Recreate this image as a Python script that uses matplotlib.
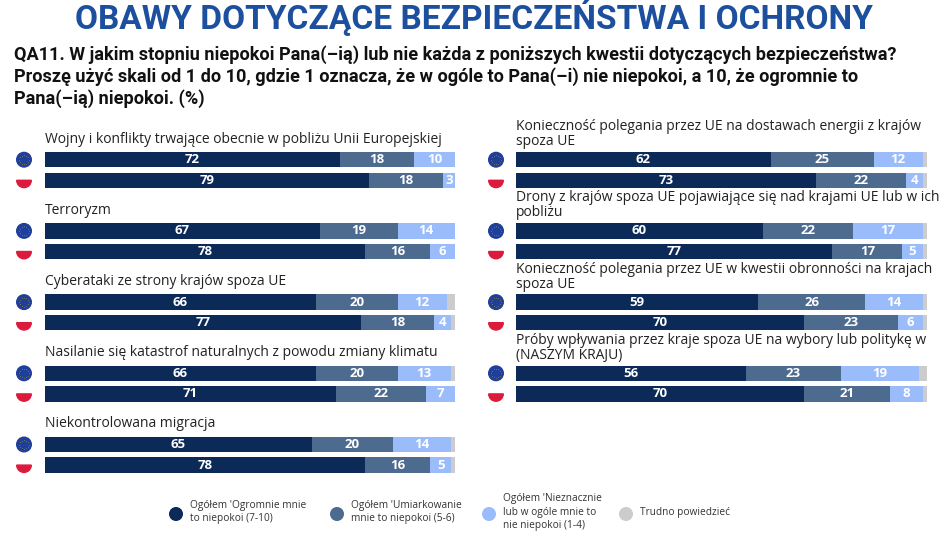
import numpy as np
import matplotlib
matplotlib.use('Agg')
from matplotlib import pyplot as plt
from matplotlib import font_manager
from matplotlib.patches import Circle, Wedge

title = 'OBAWY DOTYCZĄCE BEZPIECZEŃSTWA I OCHRONY'
question = ['QA11. W jakim stopniu niepokoi Pana(–ią) lub nie każda z poniższych kwestii dotyczących bezpieczeństwa?',
            'Proszę użyć skali od 1 do 10, gdzie 1 oznacza, że w ogóle to Pana(–i) nie niepokoi, a 10, że ogromnie to',
            'Pana(–ią) niepokoi. (%)']

left_topics = ['Wojny i konflikty trwające obecnie w pobliżu Unii Europejskiej',
               'Terroryzm',
               'Cyberataki ze strony krajów spoza UE',
               'Nasilanie się katastrof naturalnych z powodu zmiany klimatu',
               'Niekontrolowana migracja']
right_topics = ['Konieczność polegania przez UE na dostawach energii z krajów\nspoza UE',
                'Drony z krajów spoza UE pojawiające się nad krajami UE lub w ich\npobliżu',
                'Konieczność polegania przez UE w kwestii obronności na krajach\nspoza UE',
                'Próby wpływania przez kraje spoza UE na wybory lub politykę w\n(NASZYM KRAJU)']

# each pair is [UE, Polska]
left_high = [[72, 79], [67, 78], [66, 77], [66, 71], [65, 78]]
left_mid = [[18, 18], [19, 16], [20, 18], [20, 22], [20, 16]]
left_low = [[10, 3], [14, 6], [12, 4], [13, 7], [14, 5]]
left_dk = [[0, 0], [0, 0], [2, 1], [1, 0], [1, 1]]

right_high = [[62, 73], [60, 77], [59, 70], [56, 70]]
right_mid = [[25, 22], [22, 17], [26, 23], [23, 21]]
right_low = [[12, 4], [17, 5], [14, 6], [19, 8]]
right_dk = [[1, 1], [1, 1], [1, 1], [2, 1]]

legend_labels = ["Ogółem 'Ogromnie mnie\nto niepokoi (7-10)",
                 "Ogółem 'Umiarkowanie\nmnie to niepokoi (5-6)",
                 "Ogółem 'Nieznacznie\nlub w ogóle mnie to\nnie niepokoi (1-4)",
                 "Trudno powiedzieć"]

colors = ['#0b2a58', '#4d6a8f', '#9bbcfb', '#cccccc']

names = {f.name for f in font_manager.fontManager.ttflist}
narrow = 'Liberation Sans Narrow' if 'Liberation Sans Narrow' in names else 'Roboto'
body = 'Open Sans'

fig = plt.figure(figsize=(9.48, 5.49), dpi=100)
bg = fig.add_axes([0, 0, 1, 1])
bg.set_xlim(0, 948)
bg.set_ylim(549, 0)
bg.axis('off')

bg.text(474, 17, title, ha='center', va='center', fontsize=24.1, fontweight='bold',
        color='#1d4f9f', family=[narrow, 'DejaVu Sans'])
for i, line in enumerate(question):
    bg.text(14, 55 + 22 * i, line, ha='left', va='center', fontsize=13.1, fontweight='bold',
            color='#111111', family=[narrow, 'DejaVu Sans'])


def eu_flag(x, y):
    bg.add_patch(Circle((x, y), 7.3, color='#1f3f9a', zorder=3))
    a = np.linspace(0, 2 * np.pi, 13)[:-1]
    bg.scatter(x + 4.6 * np.cos(a), y + 4.6 * np.sin(a), s=0.12, linewidths=0,
               color='#f5d300', zorder=4)


def pl_flag(x, y):
    bg.add_patch(Wedge((x, y), 7.3, 0, 180, color='#dc1a3c', zorder=3))


def panel(x0, width, flag_x, topics, high, mid, low, dk, two_line):
    ax = fig.add_axes([x0 / 948, 0, width / 948, 1])
    ax.set_xlim(0, 100)
    ax.set_ylim(549, 0)
    ax.axis('off')
    for i, topic in enumerate(topics):
        y_eu = 159.7 + 71.2 * i
        y_pl = y_eu + 20.6
        if two_line:
            ax.text(0, y_eu - 25.5, topic, ha='left', va='center', fontsize=10,
                    color='#222222', family=body, linespacing=1.0)
        else:
            ax.text(0, y_eu - 20.6, topic, ha='left', va='center', fontsize=10,
                    color='#222222', family=body)
        for j, y in enumerate([y_eu, y_pl]):
            vals = [high[i][j], mid[i][j], low[i][j], dk[i][j]]
            left = 0
            for k, v in enumerate(vals):
                if v > 0:
                    ax.barh(y, v, left=left, height=15.5, color=colors[k])
                    if k < 3:
                        ax.text(left + v / 2, y, str(v), ha='center', va='center',
                                fontsize=9.5, fontweight='bold', color='white', family=body)
                left += v
        eu_flag(flag_x, y_eu)
        pl_flag(flag_x, y_pl)


panel(45, 410, 24, left_topics, left_high, left_mid, left_low, left_dk, False)
panel(516, 411, 496, right_topics, right_high, right_mid, right_low, right_dk, True)

leg_x = [176, 337, 489, 626]
for k, lab in enumerate(legend_labels):
    bg.add_patch(Circle((leg_x[k], 514), 6.3, color=colors[k]))
    bg.text(leg_x[k] + 14, 512, lab, ha='left', va='center', fontsize=7.3,
            color='#333333', family=body, linespacing=1.3)

fig.savefig('out.png', dpi=100)
